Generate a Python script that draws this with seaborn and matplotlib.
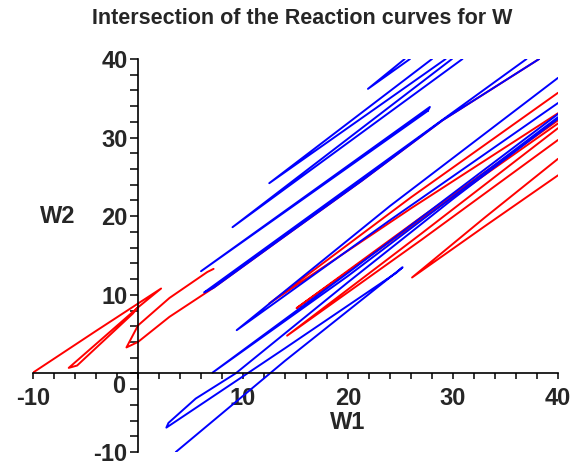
import matplotlib
matplotlib.use("Agg")
import matplotlib.pyplot as plt
from matplotlib import font_manager
from matplotlib.ticker import FixedLocator, MultipleLocator, NullFormatter
import seaborn as sns
import pandas as pd

# ---------------- text ----------------
title = "Intersection of the Reaction curves for W"
x_label = "W1"
y_label = "W2"
x_ticks = [-10, 10, 20, 30, 40]
y_ticks = [-10, 10, 20, 30, 40]
origin_label = "0"

# ---------------- red curves (x, y) ----------------
red_left = [(-10.0, 0.1), (-4.0, 5.4), (2.2, 10.8), (0.0, 8.4), (-6.6, 0.7),
            (-5.8, 1.0), (-0.5, 7.6), (0.0, 8.4)]
red_mid = [(7.2, 13.3), (6.6, 12.9), (3.0, 9.6), (0.0, 6.1), (-1.1, 3.3),
           (0.0, 4.0), (3.0, 7.2), (7.2, 10.9), (13.5, 17.0), (21.3, 24.5),
           (29.0, 32.2), (38.2, 40.0)]
red_a = [(40.0, 35.7), (26.0, 22.4), (12.5, 8.9), (26.0, 21.0), (40.0, 33.1)]
red_b = [(40.0, 32.2), (27.0, 19.9), (15.1, 8.3), (27.0, 19.6), (40.0, 31.8)]
red_c = [(40.0, 29.7), (27.0, 17.0), (14.2, 4.8), (27.0, 17.8), (40.0, 31.2)]
red_d = [(40.0, 27.3), (33.0, 19.8), (26.1, 12.2), (33.0, 18.7), (40.0, 25.2)]

# ---------------- blue curves (x, y) ----------------
blue_fold = [(3.6, -10.0), (14.0, 1.6), (25.2, 13.5), (24.6, 12.8), (14.0, 3.2),
             (2.7, -6.9), (2.9, -6.3), (5.5, -3.2), (9.3, 0.0), (20.0, 11.6),
             (30.0, 22.2), (40.0, 32.4)]
blue_axis = [(40.0, 33.0), (20.0, 12.8), (7.1, 0.1), (20.0, 12.4), (40.0, 32.6)]
blue_low = [(40.0, 37.6), (24.0, 21.3), (9.4, 5.5), (24.0, 19.5), (40.0, 34.4)]
blue_small = [(25.9, 40.0), (21.9, 36.2), (25.4, 40.0)]
blue_b4 = [(28.0, 40.0), (12.5, 24.2), (29.3, 40.0)]
blue_b3 = [(29.9, 40.0), (9.0, 18.6), (30.9, 40.0)]
blue_b1 = [(27.6, 33.4), (6.0, 13.0), (27.8, 33.9), (27.6, 33.4)]
blue_b2 = [(37.0, 40.0), (6.3, 10.3), (7.2, 10.9), (13.5, 17.0), (21.3, 24.5),
           (29.0, 32.2), (38.2, 40.0)]

red_curves = [red_left, red_mid, red_a, red_b, red_c, red_d]
blue_curves = [blue_fold, blue_axis, blue_low, blue_small, blue_b4, blue_b3,
               blue_b1, blue_b2]


def to_frame(curves, name):
    rows = []
    for i, curve in enumerate(curves):
        for j, (x, y) in enumerate(curve):
            rows.append({"x": x, "y": y, "curve": f"{name}{i}", "order": j})
    return pd.DataFrame(rows)


red_df = to_frame(red_curves, "r")
blue_df = to_frame(blue_curves, "b")

sns.set_style("white")
names = {f.name for f in font_manager.fontManager.ttflist}
narrow = "Liberation Sans Narrow" if "Liberation Sans Narrow" in names else "Liberation Sans"
plt.rcParams["font.family"] = ["Liberation Sans", "DejaVu Sans"]

fig = plt.figure(figsize=(5.85, 4.66), dpi=100)
ax = fig.add_axes([33 / 585, 14 / 466, 525 / 585, 393 / 466])

lw = 1.4
sns.lineplot(data=red_df, x="x", y="y", units="curve", estimator=None,
             sort=False, color=(1, 0, 0), lw=lw, ax=ax)
sns.lineplot(data=blue_df, x="x", y="y", units="curve", estimator=None,
             sort=False, color=(0, 0, 1), lw=lw, ax=ax)

ax.set_xlim(-10, 40)
ax.set_ylim(-10, 40)
ax.set_xlabel("")
ax.set_ylabel("")

for side in ("top", "right"):
    ax.spines[side].set_visible(False)
ax.spines["left"].set_position(("data", 0))
ax.spines["bottom"].set_position(("data", 0))
for side in ("left", "bottom"):
    ax.spines[side].set_color("black")
    ax.spines[side].set_linewidth(1.2)

ax.xaxis.set_major_locator(FixedLocator(x_ticks))
ax.yaxis.set_major_locator(FixedLocator(y_ticks))
ax.xaxis.set_minor_locator(MultipleLocator(2))
ax.yaxis.set_minor_locator(MultipleLocator(2))
ax.xaxis.set_minor_formatter(NullFormatter())
ax.yaxis.set_minor_formatter(NullFormatter())
ax.set_xticklabels([str(t) for t in x_ticks], fontweight="bold", fontsize=17)
ax.set_yticklabels([str(t) for t in y_ticks], fontweight="bold", fontsize=17)
ax.tick_params(axis="x", which="both", direction="out", length=4.5, width=1.1,
               color="black", pad=5, bottom=True)
ax.tick_params(axis="y", which="both", direction="out", length=5.5, width=1.1,
               color="black", pad=2, left=True)

ax.annotate(origin_label, xy=(0, 0), xytext=(-14, -9.5), textcoords="offset points",
            ha="center", va="center", fontsize=17, fontweight="bold")
ax.annotate(x_label, xy=(20, 0), xytext=(0, -35), textcoords="offset points",
            ha="center", va="center", fontsize=17, fontweight="bold")
ax.text(0.048, 0.60, y_label, transform=ax.transAxes, ha="center", va="center",
        fontsize=17, fontweight="bold")

fig.text(302 / 585, 1 - 18 / 466, title, ha="center", va="center",
         fontsize=15.5, fontweight="bold", family=[narrow, "DejaVu Sans"])

fig.savefig("out.png", dpi=100)
